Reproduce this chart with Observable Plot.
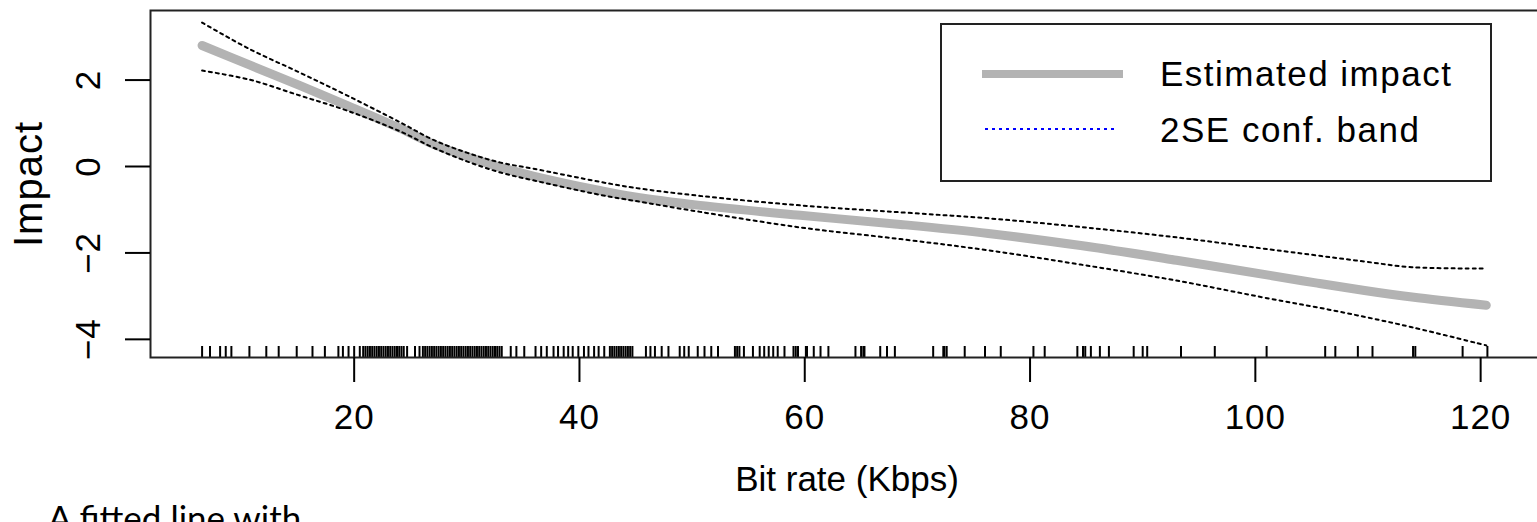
<!DOCTYPE html>
<html><head><meta charset="utf-8">
<script src="https://cdn.jsdelivr.net/npm/d3@7"></script>
<script src="https://cdn.jsdelivr.net/npm/@observablehq/plot@0.6"></script>
<style>
html,body{margin:0;padding:0;background:#fff;overflow:hidden;width:1537px;height:522px;}
#wrap{position:relative;width:1537px;height:522px;overflow:hidden;}
#chart svg text{letter-spacing:1px;}
#chart svg .xtitle text, #chart svg text.xtitle{letter-spacing:0;}
#legend{position:absolute;left:940px;top:23px;width:548px;height:155px;border:2px solid #222;background:#fff;}
#legend svg{display:block;}
#legend text{font-family:"Liberation Sans",Arial,sans-serif;font-size:35px;letter-spacing:1.5px;fill:#000;}
#note{position:absolute;left:48px;top:500px;font-family:Lato,"Open Sans",sans-serif;font-size:35px;line-height:1;white-space:nowrap;color:#000;}
</style>
</head><body>
<div id="wrap"><div id="chart"></div>
<div id="legend"><svg width="548" height="155">
<line x1="40" y1="49" x2="181" y2="49" stroke="#b3b3b3" stroke-width="8"/>
<line x1="43" y1="104" x2="176" y2="104" stroke="#0000ff" stroke-width="2" stroke-dasharray="3,4"/>
<text x="218" y="61">Estimated impact</text>
<text x="218" y="117">2SE conf. band</text>
</svg></div>
<div id="note">A fitted line with</div>
</div>
<script>
// Bit rate grid (Kbps) where the curves were read
const bitRate = [6.5, 10.7, 15.2, 19.4, 24.1, 27.0, 30.0, 33.0, 35.9, 41.9, 44.8, 50.7, 59.6, 68.5, 76.3, 84.5, 93.0, 101.3, 105.5, 109.7, 113.9, 120.5];
// Estimated impact (smooth fit)
const impact = [2.80, 2.35, 1.87, 1.41, 0.88, 0.52, 0.23, -0.02, -0.22, -0.56, -0.70, -0.90, -1.13, -1.34, -1.55, -1.83, -2.17, -2.52, -2.70, -2.87, -3.02, -3.21];
// Upper and lower 2SE confidence band
const upperBand = [3.33, 2.72, 2.17, 1.64, 1.02, 0.62, 0.32, 0.09, -0.05, -0.36, -0.49, -0.68, -0.90, -1.06, -1.20, -1.40, -1.64, -1.92, -2.06, -2.20, -2.33, -2.36];
const lowerBand = [2.22, 2.01, 1.64, 1.29, 0.81, 0.44, 0.12, -0.14, -0.32, -0.66, -0.79, -1.05, -1.41, -1.68, -1.94, -2.27, -2.64, -3.06, -3.26, -3.48, -3.72, -4.14];
// Rug: observed bit rates
const rugBitRates = [6.5, 7.2, 8.1, 8.6, 9.1, 10.7, 12.2, 13.3, 14.9, 16.3, 17.4, 18.6, 19.0, 19.5, 20.0, 20.5, 20.8,
  21.0, 21.2, 21.4, 21.6, 21.8, 22.0, 22.2, 22.4, 22.6, 22.8, 23.0, 23.2, 23.4, 23.6, 23.8, 24.0, 24.2, 24.4,
  24.7, 25.4, 25.8,
  26.1, 26.3, 26.5, 26.7, 26.9, 27.1, 27.3, 27.5, 27.7, 27.9, 28.1, 28.3, 28.5, 28.7, 28.9, 29.1, 29.3, 29.5, 29.7, 29.9,
  30.1, 30.3, 30.5, 30.7, 30.9, 31.1, 31.3, 31.5, 31.7, 31.9, 32.1, 32.3, 32.5, 32.7, 32.9, 33.1,
  33.9, 34.4, 35.1, 36.1, 36.6, 37.1, 37.7, 38.1, 38.6, 39.0, 39.4, 39.9, 40.4, 40.8, 41.3, 41.7, 42.2,
  42.7, 42.9, 43.1, 43.3, 43.5, 43.7, 43.9, 44.1, 44.3, 44.5, 44.7,
  45.9, 46.3, 46.7, 47.3, 47.9, 48.9, 49.3, 49.7, 50.5, 51.1, 51.7, 52.3, 53.8, 54.0, 54.2, 54.6, 55.4, 56.0, 56.4, 56.8, 57.2, 57.6, 58.2,
  59.0, 59.2, 59.4, 60.1, 60.2, 60.8, 61.4, 62.1, 64.5, 65.0, 65.2, 65.3, 66.7, 67.3, 68.0, 71.4, 72.3, 72.4, 72.6, 74.2, 76.0, 77.4,
  80.3, 81.3, 84.2, 84.7, 84.9, 85.4, 86.2, 87.0, 89.2, 90.0, 90.4, 93.4, 96.4, 101.0, 106.2, 107.1, 109.1, 110.4, 114.0, 114.2, 118.4, 120.6];
const xTicks = [20, 40, 60, 80, 100, 120];
const yTicks = [-4, -2, 0, 2];
const yTickLabels = ["\u22124", "\u22122", "0", "2"];
const xTitle = "Bit rate (Kbps)";
const yTitle = "Impact";

const rows = bitRate.map((x, i) => ({x, impact: impact[i], upper: upperBand[i], lower: lowerBand[i]}));

const chart = Plot.plot({
  width: 1537, height: 522,
  marginLeft: 150, marginRight: -6, marginTop: 10, marginBottom: 165,
  x: {domain: [1.92, 125.58]},
  y: {domain: [-4.42, 3.61]},
  style: {fontFamily: "'Liberation Sans', Arial, sans-serif", color: "#000", background: "#fff", overflow: "hidden"},
  marks: [
    Plot.ruleX(rugBitRates, {x: d => d, insetTop: 336, stroke: "#000", strokeWidth: 2}),
    Plot.line(rows, {x: "x", y: "impact", stroke: "#b3b3b3", strokeWidth: 9, curve: "catmull-rom", strokeLinecap: "round"}),
    Plot.line(rows, {x: "x", y: "upper", stroke: "#000", strokeWidth: 2, strokeDasharray: "3,4", curve: "catmull-rom"}),
    Plot.line(rows, {x: "x", y: "lower", stroke: "#000", strokeWidth: 2, strokeDasharray: "3,4", curve: "catmull-rom"}),
    Plot.frame({stroke: "#222", strokeWidth: 2}),
    Plot.axisX(xTicks, {tickSize: 25, tickPadding: 22, fontSize: 35, strokeWidth: 2, label: null, tickFormat: d => String(d)}),
    Plot.axisY(yTicks, {tickSize: 25, strokeWidth: 2, label: null, tickFormat: () => ""}),
    Plot.text(yTicks, {y: d => d, text: (d, i) => yTickLabels[i], frameAnchor: "left", textAnchor: "middle", lineAnchor: "middle", dx: -62, rotate: -90, fontSize: 35}),
    Plot.text([yTitle], {text: d => d, frameAnchor: "left", textAnchor: "middle", lineAnchor: "middle", dx: -121, rotate: -90, fontSize: 40}),
    Plot.text([xTitle], {text: d => d, frameAnchor: "bottom", dy: 133, fontSize: 35, className: "xtitle"})
  ]
});
document.getElementById("chart").appendChild(chart);
</script>
</body></html>
